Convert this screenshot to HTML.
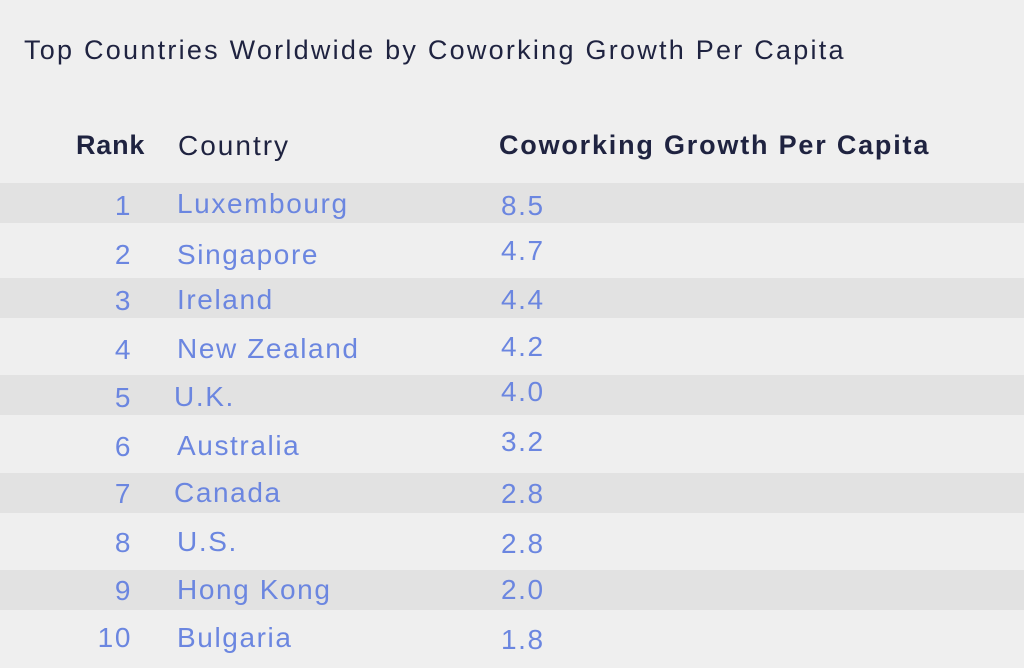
<!DOCTYPE html>
<html><head><style>
body{margin:0;width:1024px;height:668px;background:#efefef;position:relative;overflow:hidden;font-family:"Liberation Sans",sans-serif;}
.s{position:absolute;left:0;width:1024px;height:40px;background:#e2e2e2;}
.t{position:absolute;line-height:1;white-space:nowrap;}
.b{color:#6b86e0;font-size:28px;transform:translateY(-50%);letter-spacing:1.6px;}
.r{width:60px;text-align:right;left:72px;}
</style></head><body>
<div class="s" style="top:183px"></div>
<div class="s" style="top:278px"></div>
<div class="s" style="top:375px"></div>
<div class="s" style="top:473px"></div>
<div class="s" style="top:570px"></div>
<div class="t" style="left:24px;top:37px;font-size:27px;letter-spacing:2.25px;color:#1f2340">Top Countries Worldwide by Coworking Growth Per Capita</div>
<div class="t" style="left:76px;top:132px;font-size:27px;font-weight:bold;color:#1f2340;letter-spacing:0.8px">Rank</div>
<div class="t" style="left:178px;top:132px;font-size:28px;color:#1f2340;letter-spacing:2px">Country</div>
<div class="t" style="left:499px;top:132px;font-size:27px;font-weight:bold;color:#1f2340;letter-spacing:1.8px">Coworking Growth Per Capita</div>

<div class="t b r" style="top:206px">1</div><div class="t b" style="left:177px;top:204px">Luxembourg</div><div class="t b" style="left:501px;top:206px">8.5</div>
<div class="t b r" style="top:255px">2</div><div class="t b" style="left:177px;top:255px">Singapore</div><div class="t b" style="left:501px;top:251px">4.7</div>
<div class="t b r" style="top:301px">3</div><div class="t b" style="left:177px;top:300px">Ireland</div><div class="t b" style="left:501px;top:300px">4.4</div>
<div class="t b r" style="top:350px">4</div><div class="t b" style="left:177px;top:349px">New Zealand</div><div class="t b" style="left:501px;top:347px">4.2</div>
<div class="t b r" style="top:398px">5</div><div class="t b" style="left:174px;top:397px">U.K.</div><div class="t b" style="left:501px;top:392px">4.0</div>
<div class="t b r" style="top:447px">6</div><div class="t b" style="left:177px;top:446px">Australia</div><div class="t b" style="left:501px;top:442px">3.2</div>
<div class="t b r" style="top:494px">7</div><div class="t b" style="left:174px;top:493px">Canada</div><div class="t b" style="left:501px;top:494px">2.8</div>
<div class="t b r" style="top:543px">8</div><div class="t b" style="left:177px;top:542px">U.S.</div><div class="t b" style="left:501px;top:544px">2.8</div>
<div class="t b r" style="top:591px">9</div><div class="t b" style="left:177px;top:590px">Hong Kong</div><div class="t b" style="left:501px;top:590px">2.0</div>
<div class="t b r" style="top:638px">10</div><div class="t b" style="left:177px;top:638px">Bulgaria</div><div class="t b" style="left:501px;top:640px">1.8</div>
</body></html>
